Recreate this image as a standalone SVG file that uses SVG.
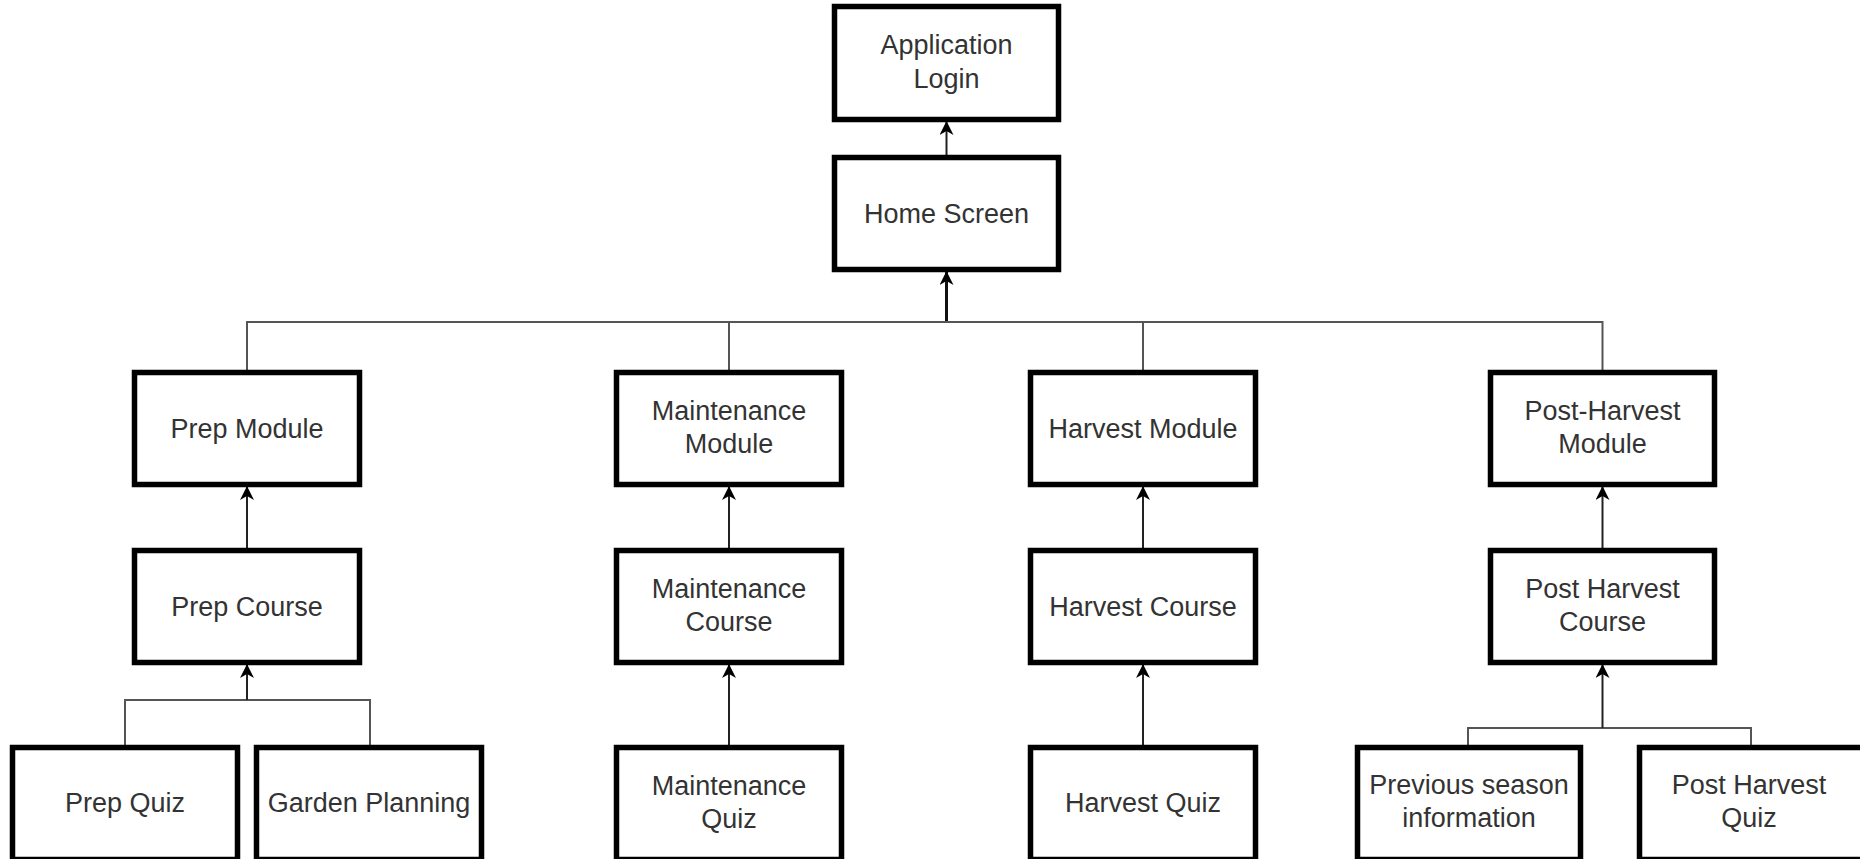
<svg xmlns="http://www.w3.org/2000/svg" width="1860" height="859" viewBox="0 0 1860 859">
<style>
.box{fill:#fff;stroke:#000;stroke-width:5.5}
.lbl{font-family:"Liberation Sans",Arial,sans-serif;font-size:27px;fill:#333;text-anchor:middle}
.ln{fill:none;stroke:#555;stroke-width:2}
.ar{fill:none;stroke:#222;stroke-width:2;marker-end:url(#arr)}
.ar3{fill:none;stroke:#111;stroke-width:3;marker-end:url(#arr)}
</style>
<defs>
<marker id="arr" viewBox="0 0 14 14" refX="13" refY="7" markerUnits="userSpaceOnUse" markerWidth="14" markerHeight="14" orient="auto">
<path d="M0,0 L14,7 L0,14 L4,7 z" fill="#000"/>
</marker>
</defs>
<rect width="1860" height="859" fill="#fff"/>
<g id="connectors">
<path class="ar" d="M946.5,155 V122"/>
<path class="ar3" d="M946.5,322 V272"/>
<path class="ln" d="M247,370 V322 H1602.5 V370"/>
<path class="ln" d="M729,322 V370"/>
<path class="ln" d="M1143,322 V370"/>
<path class="ar" d="M247,548 V487"/>
<path class="ar" d="M729,548 V487"/>
<path class="ar" d="M1143,548 V487"/>
<path class="ar" d="M1602.5,548 V487"/>
<path class="ln" d="M125,745 V700 H370 V745"/>
<path class="ar" d="M247,700 V665"/>
<path class="ar" d="M729,745 V665"/>
<path class="ar" d="M1143,745 V665"/>
<path class="ln" d="M1468,745 V728 H1751 V745"/>
<path class="ar" d="M1602.5,728 V665"/>
</g>
<g id="app-login"><rect class="box" x="834.5" y="6.5" width="224" height="113"/><text class="lbl" x="946.5" y="54">Application</text><text class="lbl" x="946.5" y="88">Login</text></g>
<g id="home-screen"><rect class="box" x="834.5" y="157.5" width="224" height="112"/><text class="lbl" x="946.5" y="223">Home Screen</text></g>
<g id="prep-module"><rect class="box" x="134.5" y="372.5" width="225" height="112"/><text class="lbl" x="247" y="438">Prep Module</text></g>
<g id="maintenance-module"><rect class="box" x="616.5" y="372.5" width="225" height="112"/><text class="lbl" x="729" y="420">Maintenance</text><text class="lbl" x="729" y="453">Module</text></g>
<g id="harvest-module"><rect class="box" x="1030.5" y="372.5" width="225" height="112"/><text class="lbl" x="1143" y="438">Harvest Module</text></g>
<g id="post-harvest-module"><rect class="box" x="1490.5" y="372.5" width="224" height="112"/><text class="lbl" x="1602.5" y="420">Post-Harvest</text><text class="lbl" x="1602.5" y="453">Module</text></g>
<g id="prep-course"><rect class="box" x="134.5" y="550.5" width="225" height="112"/><text class="lbl" x="247" y="616">Prep Course</text></g>
<g id="maintenance-course"><rect class="box" x="616.5" y="550.5" width="225" height="112"/><text class="lbl" x="729" y="598">Maintenance</text><text class="lbl" x="729" y="631">Course</text></g>
<g id="harvest-course"><rect class="box" x="1030.5" y="550.5" width="225" height="112"/><text class="lbl" x="1143" y="616">Harvest Course</text></g>
<g id="post-harvest-course"><rect class="box" x="1490.5" y="550.5" width="224" height="112"/><text class="lbl" x="1602.5" y="598">Post Harvest</text><text class="lbl" x="1602.5" y="631">Course</text></g>
<g id="prep-quiz"><rect class="box" x="12.5" y="747.5" width="225" height="112"/><text class="lbl" x="125" y="812">Prep Quiz</text></g>
<g id="garden-planning"><rect class="box" x="256.5" y="747.5" width="225" height="112"/><text class="lbl" x="369" y="812">Garden Planning</text></g>
<g id="maintenance-quiz"><rect class="box" x="616.5" y="747.5" width="225" height="112"/><text class="lbl" x="729" y="795">Maintenance</text><text class="lbl" x="729" y="828">Quiz</text></g>
<g id="harvest-quiz"><rect class="box" x="1030.5" y="747.5" width="225" height="112"/><text class="lbl" x="1143" y="812">Harvest Quiz</text></g>
<g id="previous-season"><rect class="box" x="1357.5" y="747.5" width="223" height="112"/><text class="lbl" x="1469" y="794">Previous season</text><text class="lbl" x="1469" y="827">information</text></g>
<g id="post-harvest-quiz"><rect class="box" x="1639.5" y="747.5" width="225" height="112"/><text class="lbl" x="1749" y="794">Post Harvest</text><text class="lbl" x="1749" y="827">Quiz</text></g>
</svg>
